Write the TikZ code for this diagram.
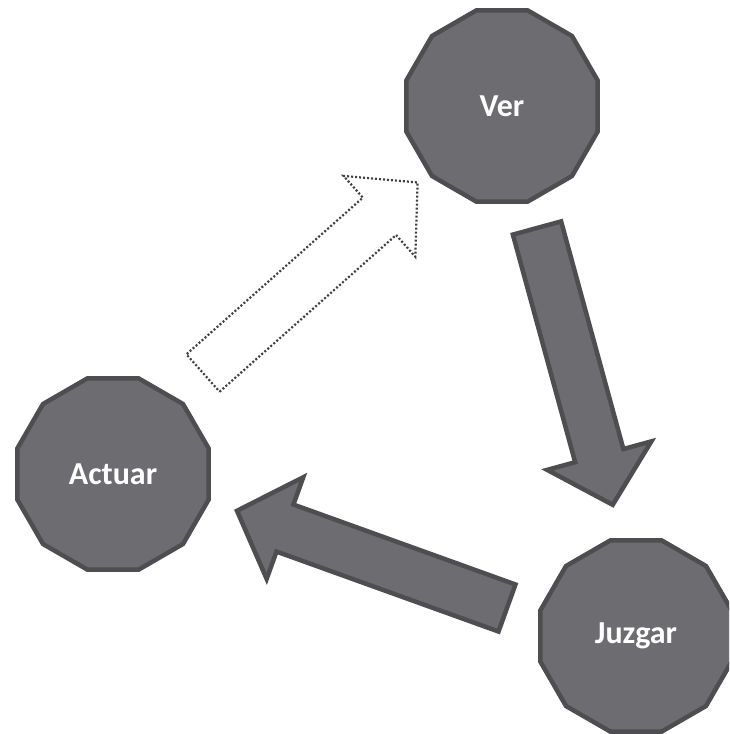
\documentclass[tikz,border=0pt]{standalone}
\usepackage{fontspec}
\setmainfont{Carlito}
\usetikzlibrary{shapes.geometric}

\definecolor{stageFill}{RGB}{109,108,113}
\definecolor{stageLine}{RGB}{78,78,80}
\definecolor{dotLine}{RGB}{64,64,66}

% block arrow along +x: tail at the origin, tip at (287,0)
\def\blockArrowCoords{\coordinate (T1) at (0,25);\coordinate (T2) at (0,-25);\coordinate (S1) at (236,25);\coordinate (S2) at (236,-25);\coordinate (B1) at (236,54);\coordinate (B2) at (236,-54);\coordinate (P) at (287,0);}

\tikzset{
	stage/.style={regular polygon, regular polygon sides=12, inner sep=0pt, minimum size=99pt,
		fill=stageFill, draw=stageLine, line width=2.25pt, text=white,
		font=\bfseries\fontsize{16}{18}\selectfont},
	solidarrow/.style={fill=stageFill, draw=stageLine, line width=2.25pt, line join=miter},
	dottedarrow/.style={draw=dotLine, line width=1.1pt, dash pattern=on 1pt off 1pt}
}

\begin{document}
\begin{tikzpicture}[x=0.5pt, y=-0.5pt]
		\clip (0,0) rectangle (729,734);

		% stages
		\node[stage] (ver) at (502,106) {Ver};
		\node[stage] (actuar) at (113,474) {Actuar};
		\node[stage] (juzgar) at (636,636) {Juzgar};

		% ver -> juzgar
		\begin{scope}[shift={(537,228)}, rotate=-74.7]
			\blockArrowCoords
			\draw[solidarrow] (T1)--(S1)--(B1)--(P)--(B2)--(S2)--(T2)--cycle;
		\end{scope}

		% juzgar -> actuar
		\begin{scope}[shift={(507,608)}, rotate=160.2]
			\blockArrowCoords
			\draw[solidarrow] (T1)--(S1)--(B1)--(P)--(B2)--(S2)--(T2)--cycle;
		\end{scope}

		% actuar -> ver, outline only
		\begin{scope}[shift={(203,373)}, rotate=41.6]
			\blockArrowCoords
			\draw[dottedarrow] (T1)--(S1)--(B1)--(P)--(B2)--(S2)--(T2)--cycle;
		\end{scope}
\end{tikzpicture}
\end{document}
